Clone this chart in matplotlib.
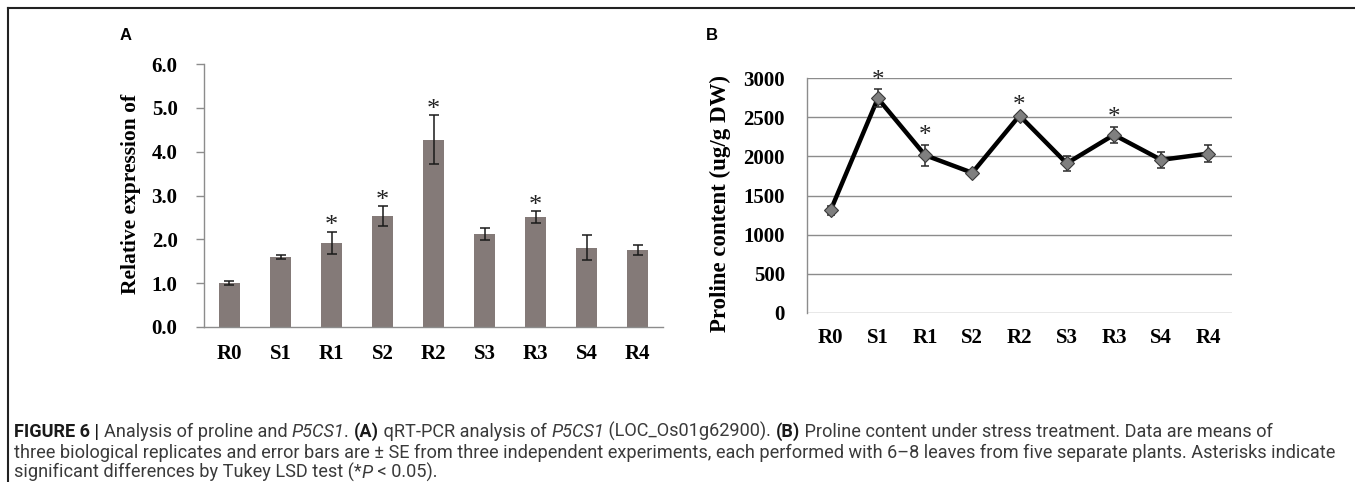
import matplotlib
matplotlib.use("Agg")
import matplotlib.pyplot as plt
from matplotlib.lines import Line2D
import numpy as np

# ---------------- data ----------------
categories = ["R0", "S1", "R1", "S2", "R2", "S3", "R3", "S4", "R4"]

expr = [1.00, 1.60, 1.92, 2.53, 4.27, 2.12, 2.51, 1.81, 1.76]
expr_err = [0.04, 0.04, 0.25, 0.23, 0.56, 0.14, 0.13, 0.28, 0.11]
expr_sig = [False, False, True, True, True, False, True, False, False]
expr_ticks = [0.0, 1.0, 2.0, 3.0, 4.0, 5.0, 6.0]

proline = [1310, 2740, 2015, 1790, 2520, 1910, 2275, 1955, 2035]
proline_err = [60, 115, 135, 20, 20, 95, 105, 100, 110]
proline_sig = [False, True, True, False, True, False, True, False, False]
proline_ticks = [0, 500, 1000, 1500, 2000, 2500, 3000]

ylabel_a = "Relative expression of"
ylabel_b = "Proline content (ug/g DW)"

caption_lines = [
    [("FIGURE 6 | ", "bold"), ("Analysis of proline and ", "normal"), ("P5CS1", "italic"),
     (". ", "normal"), ("(A)", "bold"), (" qRT-PCR analysis of ", "normal"), ("P5CS1", "italic"),
     (" (LOC_Os01g62900). ", "normal"), ("(B)", "bold"),
     (" Proline content under stress treatment. Data are means of", "normal")],
    [("three biological replicates and error bars are \u00b1 SE from three independent experiments, "
      "each performed with 6\u20138 leaves from five separate plants. Asterisks indicate", "normal")],
    [("significant differences by Tukey LSD test (*", "normal"), ("P", "italic"), (" < 0.05).", "normal")],
]

# ---------------- figure ----------------
W, H = 1355, 482
fig = plt.figure(figsize=(W / 100, H / 100), dpi=100)

serif = "Liberation Serif"
sans = "Liberation Sans"
cap_font = "Roboto"
grey_axis = "#8c8c8c"

def fx(px):
    return px / W

def fy(py):
    return 1 - py / H

# frame lines (top and left)
fig.add_artist(Line2D([fx(8), fx(8)], [fy(8), fy(482)], color="#222222", lw=1.5))
fig.add_artist(Line2D([fx(8), 1.0], [fy(8), fy(8)], color="#222222", lw=1.5))

# panel letters
fig.text(fx(126), fy(35), "A", fontsize=12, fontweight="bold", family=sans, ha="center", va="center")
fig.text(fx(712), fy(35), "B", fontsize=12, fontweight="bold", family=sans, ha="center", va="center")

# ---------------- panel A ----------------
axA = fig.add_axes([fx(204), 1 - 327 / H, 459 / W, 263 / H])
x = np.arange(len(categories))
axA.bar(x, expr, width=0.41, color="#847a78", zorder=2)
axA.errorbar(x, expr, yerr=expr_err, fmt="none", ecolor="#1a1a1a", elinewidth=1.1,
             capsize=3.3, capthick=1.1, zorder=3)
for xi, v, e, s in zip(x, expr, expr_err, expr_sig):
    if s:
        axA.annotate("*", (xi, v + e), xytext=(0, -4), textcoords="offset points",
                     ha="center", va="bottom", fontsize=19, family=serif, color="#222222")
axA.set_xlim(-0.5, len(categories) - 0.5)
axA.set_ylim(0, 6)
axA.set_yticks(expr_ticks)
axA.set_yticklabels([f"{t:.1f}" for t in expr_ticks])
axA.set_xticks(x)
axA.set_xticklabels(categories)
for sp in ["top", "right"]:
    axA.spines[sp].set_visible(False)
for sp in ["left", "bottom"]:
    axA.spines[sp].set_color(grey_axis)
    axA.spines[sp].set_linewidth(1.0)
axA.tick_params(axis="y", direction="out", length=6, width=1, color=grey_axis, pad=13)
axA.tick_params(axis="x", length=0, pad=12)
for lab in axA.get_yticklabels() + axA.get_xticklabels():
    lab.set_fontfamily(serif)
    lab.set_fontweight("bold")
    lab.set_fontsize(15)
axA.set_ylabel(ylabel_a, fontsize=15.5, fontweight="bold", family=serif)
axA.yaxis.set_label_coords((141 - 204) / 459, (482 - 194 - 155) / 263)

# ---------------- panel B ----------------
axB = fig.add_axes([fx(807), 169 / H, 425 / W, 235 / H])
axB.plot(x, proline, color="black", lw=3.2, zorder=2, solid_joinstyle="miter")
axB.errorbar(x, proline, yerr=proline_err, fmt="none", ecolor="#2a2a2a", elinewidth=1.1,
             capsize=3.0, capthick=1.1, zorder=3)
axB.plot(x, proline, ls="none", marker="D", ms=7, mfc="#7f7f7f", mec="#3a3a3a", mew=0.8, zorder=4)
for xi, v, e, s in zip(x, proline, proline_err, proline_sig):
    if s:
        axB.annotate("*", (xi, v + e), xytext=(0, -2), textcoords="offset points",
                     ha="center", va="bottom", fontsize=18, family=serif, color="#222222")
axB.set_xlim(-0.5, len(categories) - 0.5)
axB.set_ylim(0, 3000)
axB.set_yticks(proline_ticks)
axB.set_xticks(x)
axB.set_xticklabels(categories)
axB.yaxis.grid(True, color=grey_axis, lw=1.0)
axB.set_axisbelow(True)
for sp in ["top", "right", "bottom"]:
    axB.spines[sp].set_visible(False)
axB.spines["left"].set_color(grey_axis)
axB.spines["left"].set_linewidth(1.0)
axB.tick_params(axis="y", length=0, pad=16)
axB.tick_params(axis="x", length=0, pad=11)
for lab in axB.get_yticklabels() + axB.get_xticklabels():
    lab.set_fontfamily(serif)
    lab.set_fontweight("bold")
    lab.set_fontsize(15)
axB.set_ylabel(ylabel_b, fontsize=16.5, fontweight="bold", family=serif)
axB.yaxis.set_label_coords((731 - 807) / 425, (482 - 203 - 169) / 235)

# ---------------- caption ----------------
renderer = fig.canvas.get_renderer()
cap_color = "#3a3a3a"

def style_kw(style, size):
    kw = dict(fontsize=size, family=cap_font, color=cap_color)
    if style == "bold":
        kw["fontweight"] = "bold"
        kw["color"] = "#1a1a1a"
    elif style == "italic":
        kw["fontstyle"] = "italic"
    return kw

def measure(text, kw):
    t1 = fig.text(0, 0, "|" + text + "|", **kw)
    t2 = fig.text(0, 0, "||", **kw)
    w = t1.get_window_extent(renderer).width - t2.get_window_extent(renderer).width
    t1.remove()
    t2.remove()
    return w

def line_width(segs, size):
    return sum(measure(s, style_kw(st, size)) for s, st in segs)

base = 10.0
w1 = line_width(caption_lines[0], base)
cap_size = base * (1275 - 14) / w1

baselines = [437, 457.5, 478]
for segs, yb in zip(caption_lines, baselines):
    xp = 14.0
    for s, st in segs:
        kw = style_kw(st, cap_size)
        fig.text(fx(xp), fy(yb), s, ha="left", va="baseline", **kw)
        xp += measure(s, kw)

fig.savefig("out.png", dpi=100)
